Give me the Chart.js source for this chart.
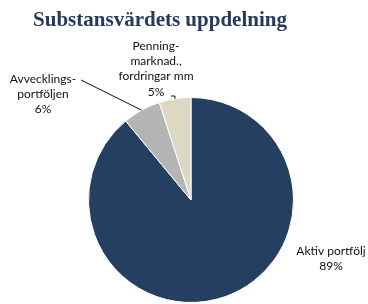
<!DOCTYPE html>
<html>
<head>
<meta charset="utf-8">
<script src="https://cdn.jsdelivr.net/npm/chart.js@4/dist/chart.umd.min.js"></script>
<style>
  html, body { margin: 0; padding: 0; background: #ffffff; }
  #wrap { width: 368px; height: 304px; position: relative; }
</style>
</head>
<body>
<div id="wrap"><canvas id="pie"></canvas></div>
<script>
var chart_title = "Substansvärdets uppdelning";
var categories = ["Aktiv portfölj", "Avvecklings-portföljen", "Penning-marknad., fordringar mm"];
var values = [89, 6, 5];
var slice_colors = ["#243f60", "#b4b4b4", "#ddd8c3"];

// label text lines for each slice, and where each sits relative to the pie center
var label_lines = [
    ["Aktiv portfölj", "89%"],
    ["Avvecklings-", "portföljen", "6%"],
    ["Penning-", "marknad.,", "fordringar mm", "5%"]
];
var label_offsets = [[140, 51], [-148, -121], [-35, -154]];
var leader_starts = [null, [-110, -120], [-20, -104]];

var labelPlugin = {
    id: "sliceLabels",
    afterDraw: function(chart) {
        var ctx = chart.ctx;
        var meta = chart.getDatasetMeta(0);
        var arc0 = meta.data[0];
        var cx = arc0.x, cy = arc0.y;

        ctx.save();
        // title
        ctx.fillStyle = "#243a5e";
        ctx.font = "bold 21px 'Liberation Serif'";
        ctx.textAlign = "center";
        ctx.textBaseline = "alphabetic";
        ctx.fillText(chart_title, 160, 26);

        ctx.font = "12px Lato";
        ctx.fillStyle = "#111111";
        ctx.textBaseline = "middle";
        for (var i = 0; i < label_lines.length; i++) {
            var lx = cx + label_offsets[i][0];
            var ly = cy + label_offsets[i][1];
            for (var j = 0; j < label_lines[i].length; j++) {
                ctx.fillText(label_lines[i][j], lx, ly + j * 15.3);
            }
            if (leader_starts[i]) {
                var arc = meta.data[i];
                var mid = (arc.startAngle + arc.endAngle) / 2;
                var ex = cx + Math.cos(mid) * arc.outerRadius;
                var ey = cy + Math.sin(mid) * arc.outerRadius;
                var sx = cx + leader_starts[i][0];
                var sy = cy + leader_starts[i][1];
                ctx.strokeStyle = "#111111";
                ctx.lineWidth = 1;
                ctx.beginPath();
                ctx.moveTo(sx, sy);
                if (i == 2) {
                    ctx.lineTo(ex, sy);
                }
                ctx.lineTo(ex, ey);
                ctx.stroke();
            }
        }
        ctx.restore();
    }
};

var chart = new Chart(document.getElementById("pie").getContext("2d"), {
    type: "pie",
    data: {
        labels: categories,
        datasets: [{
            data: values,
            backgroundColor: slice_colors,
            borderColor: "#ffffff",
            borderWidth: 1
        }]
    },
    options: {
        responsive: true,
        maintainAspectRatio: false,
        animation: false,
        layout: {
            padding: { top: 97, bottom: 1, left: 14, right: 0 }
        },
        plugins: {
            legend: { display: false },
            title: { display: false },
            tooltip: { enabled: false }
        }
    },
    plugins: [labelPlugin]
});
</script>
</body>
</html>
